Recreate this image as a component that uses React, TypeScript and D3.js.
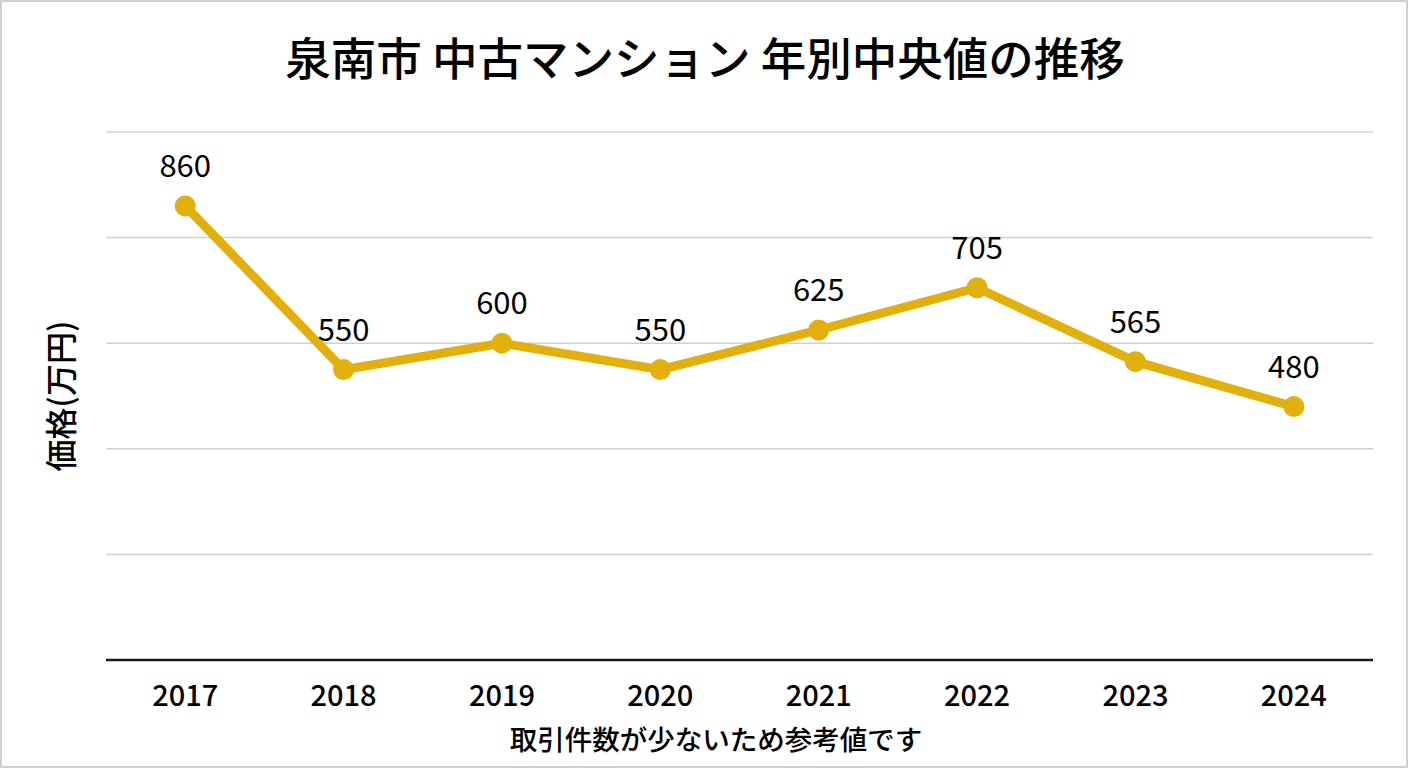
import React from "react";
import * as d3 from "d3";

const years = ["2017", "2018", "2019", "2020", "2021", "2022", "2023", "2024"];
const medians = [860, 550, 600, 550, 625, 705, 565, 480];
const yTicks = [0, 200, 400, 600, 800, 1000];

const W = 1408;
const H = 768;
const margin = { top: 132, right: 35, bottom: 108, left: 106 };
const font = "'Noto Sans CJK JP', 'Noto Sans', sans-serif";
const gold = "#E2B00D";

export default function App() {
  const x = d3
    .scaleBand<string>()
    .domain(years)
    .range([margin.left, W - margin.right]);
  const y = d3
    .scaleLinear()
    .domain([0, 1000])
    .range([H - margin.bottom, margin.top]);

  const cx = (d: string) => (x(d) || 0) + x.bandwidth() / 2;

  const line = d3
    .line<number>()
    .x((_, i) => cx(years[i]))
    .y((d) => y(d));

  return (
    <div style={{ position: "fixed", left: 0, top: 0 }}>
      <svg width={W} height={H} style={{ display: "block", fontFamily: font }}>
        <rect x={1} y={1} width={W - 2} height={H - 2} fill="#fff" stroke="#cfcfcf" strokeWidth={2} />
        <text x={705} y={76} textAnchor="middle" fontSize={45.5} fontWeight={500} fill="#000">
          泉南市 中古マンション 年別中央値の推移
        </text>

        {yTicks.map((t) => (
          <line
            key={t}
            x1={margin.left}
            x2={W - margin.right}
            y1={y(t)}
            y2={y(t)}
            stroke={t === 0 ? "#1a1a1a" : "#d0d0d0"}
            strokeWidth={t === 0 ? 2.5 : 1.5}
          />
        ))}

        {years.map((yr) => (
          <text key={yr} x={cx(yr)} y={706} textAnchor="middle" fontSize={29} fontWeight={500} fill="#000">
            {yr}
          </text>
        ))}

        <text
          transform={`translate(73, 396) rotate(-90)`}
          textAnchor="middle"
          fontSize={32}
          fontWeight={500}
          fill="#000"
        >
          価格(万円)
        </text>

        <path d={line(medians) || ""} fill="none" stroke={gold} strokeWidth={9} strokeLinejoin="round" />
        {medians.map((v, i) => (
          <g key={years[i]}>
            <circle cx={cx(years[i])} cy={y(v)} r={10.5} fill={gold} />
            <text x={cx(years[i])} y={y(v) - 29} textAnchor="middle" fontSize={31} fill="#000">
              {v}
            </text>
          </g>
        ))}

        <text x={716} y={750} textAnchor="middle" fontSize={27.5} fontWeight={500} fill="#000">
          取引件数が少ないため参考値です
        </text>
      </svg>
    </div>
  );
}
